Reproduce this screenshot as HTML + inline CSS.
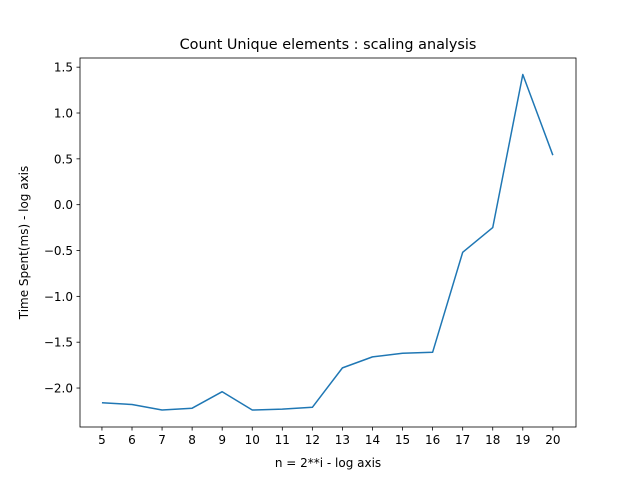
<!DOCTYPE html>
<html><head><meta charset="utf-8"><style>
body{margin:0;background:#fff;font-family:"Liberation Sans","DejaVu Sans",sans-serif;}
svg text{font-family:"DejaVu Sans","Liberation Sans",sans-serif;}
</style></head><body>
<svg id="chart" width="640" height="480" xmlns="http://www.w3.org/2000/svg">
<rect width="640" height="480" fill="#fff"/>
<text x="328" y="49" font-size="14.4" text-anchor="middle">Count Unique elements : scaling analysis</text>
<g id="axes"></g>
<text x="328" y="467" font-size="12" text-anchor="middle">n = 2**i - log axis</text>
<text transform="translate(28,242.5) rotate(-90)" font-size="12" text-anchor="middle">Time Spent(ms) - log axis</text>
</svg>
<script>
const categories=[5,6,7,8,9,10,11,12,13,14,15,16,17,18,19,20];
const values=[-2.16,-2.18,-2.24,-2.22,-2.04,-2.24,-2.23,-2.21,-1.78,-1.66,-1.62,-1.61,-0.52,-0.25,1.42,0.54];
const yTicks=[1.5,1.0,0.5,0.0,-0.5,-1.0,-1.5,-2.0];
const yTickLabels=["1.5","1.0","0.5","0.0","\u22120.5","\u22121.0","\u22121.5","\u22122.0"];
const L=80,R=576,T=58,B=427;
const xMin=4.27,xMax=20.77,yMin=-2.425,yMax=1.6;
const xs=v=>L+(v-xMin)/(xMax-xMin)*(R-L);
const ys=v=>B-(v-yMin)/(yMax-yMin)*(B-T);
const NS="http://www.w3.org/2000/svg";
const g=document.getElementById('axes');
function mk(t,a){const e=document.createElementNS(NS,t);for(const k in a)e.setAttribute(k,a[k]);g.appendChild(e);return e;}
categories.forEach(c=>{
 const l=mk('line',{x1:xs(c),x2:xs(c),y1:B,y2:B+3.5,stroke:'#000','stroke-width':0.8});
 
 
 const t=mk('text',{x:xs(c),y:B+17,'font-size':12,'text-anchor':'middle'});t.textContent=c;
 
 
});
yTicks.forEach((v,i)=>{
 const l=mk('line',{x1:L-3.5,x2:L,y1:ys(v),y2:ys(v),stroke:'#000','stroke-width':0.8});
 
 
 const t=mk('text',{x:L-7,y:ys(v)+4.5,'font-size':12,'text-anchor':'end'});t.textContent=yTickLabels[i];
 
 
});
const p=mk('polyline',{points:categories.map((c,i)=>xs(c)+','+ys(values[i])).join(' '),fill:'none',stroke:'#1f77b4','stroke-width':1.5,'stroke-linejoin':'round'});


const f=mk('rect',{x:L,y:T,width:R-L,height:B-T,fill:'none',stroke:'#000','stroke-width':0.8});


</script>
</body></html>
